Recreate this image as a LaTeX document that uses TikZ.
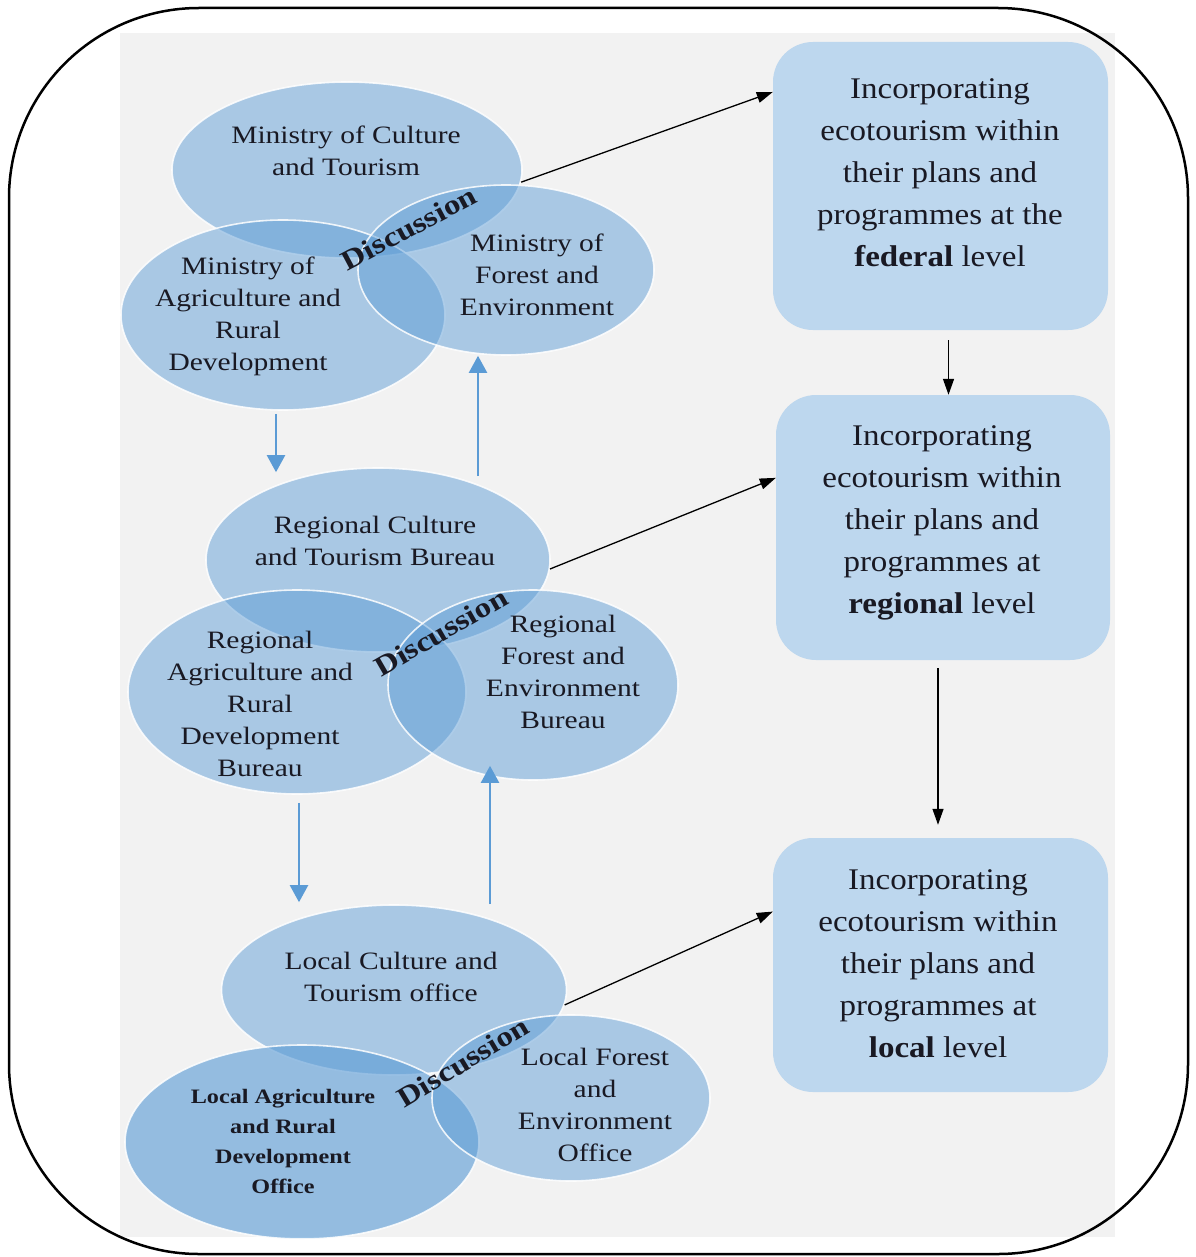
\documentclass[tikz,border=0pt]{standalone}
\usepackage{fontspec}
\setmainfont[FakeStretch=1.18]{Liberation Serif}
\newfontfamily\boxfont[FakeStretch=1.1]{Liberation Serif}
\usetikzlibrary{shapes.geometric,arrows.meta,calc}
\definecolor{ellblue}{RGB}{91,155,213}
\definecolor{boxblue}{RGB}{189,215,238}
\definecolor{bggray}{RGB}{242,242,242}
\definecolor{txt}{RGB}{25,25,35}
\begin{document}
\begin{tikzpicture}[x=1pt,y=-1pt,
 ell/.style={ellipse, draw=white, draw opacity=0.85, line width=1.6pt, fill=ellblue, fill opacity=0.48, inner sep=0pt},
 elltext/.style={align=center, text=txt, font=\fontsize{25}{32}\selectfont},
 disc/.style={text=txt, inner sep=0pt, font=\bfseries\fontsize{28}{30}\selectfont},
 lvlbox/.style={rectangle, rounded corners=40pt, fill=boxblue, draw=none, inner sep=0pt},
 boxtext/.style={align=center, text=txt, font=\boxfont\fontsize{30}{42}\selectfont},
 blk/.style={-{Triangle[length=16pt,width=11pt]}, line width=1.3pt, black},
 barr/.style={-{Triangle[length=17pt,width=18pt]}, line width=2.2pt, ellblue},
]
\useasboundingbox (0,0) rectangle (1195,1257);
\fill[white] (0,0) rectangle (1195,1257);
\fill[bggray] (120,33) rectangle (1115,1237);
\draw[line width=2.5pt, rounded corners=190pt] (9,8) rectangle (1188,1254);

% federal ellipses
\node[ell, minimum width=350pt, minimum height=176pt] (fedC) at (347,170) {};
\node[ell, minimum width=324pt, minimum height=190pt] (fedA) at (283,315) {};
\node[ell, minimum width=296pt, minimum height=170pt] (fedF) at (506,270) {};
% regional ellipses
\node[ell, minimum width=344pt, minimum height=184pt] (regC) at (378,560) {};
\node[ell, minimum width=338pt, minimum height=204pt] (regA) at (297,692) {};
\node[ell, minimum width=290pt, minimum height=190pt] (regF) at (533,685) {};
% local ellipses
\node[ell, minimum width=345pt, minimum height=170pt] (locC) at (394,990) {};
\node[ell, fill opacity=0.62, minimum width=354pt, minimum height=194pt] (locA) at (302,1142) {};
\node[ell, minimum width=278pt, minimum height=166pt] (locF) at (571,1098) {};

% ellipse texts
\node[elltext] (tFedC) at (346,151) {Ministry of Culture\\and Tourism};
\node[elltext] (tFedA) at (248,316) {Ministry of\\Agriculture and\\Rural\\Development};
\node[elltext] (tFedF) at (537,275) {Ministry of\\Forest and\\Environment};
\node[disc, rotate=28] (dFed) at (409,228) {Discussion};

\node[elltext] (tRegC) at (375,541) {Regional Culture\\and Tourism Bureau};
\node[elltext] (tRegA) at (260,704) {Regional\\Agriculture and\\Rural\\Development\\Bureau};
\node[elltext] (tRegF) at (563,672) {Regional\\Forest and\\Environment\\Bureau};
\node[disc, rotate=30] (dReg) at (441,632) {Discussion};

\node[elltext] (tLocC) at (391,977) {Local Culture and\\Tourism office};
\node[elltext, font=\bfseries\fontsize{20.5}{30}\selectfont] (tLocA) at (283,1141) {Local Agriculture\\and Rural\\Development\\Office};
\node[elltext] (tLocF) at (595,1105) {Local Forest\\and\\Environment\\Office};
\node[disc, rotate=31] (dLoc) at (463,1062) {Discussion};

% level boxes
\node[lvlbox, minimum width=335pt, minimum height=288pt] (fedBox) at (940.5,186) {};
\node[lvlbox, minimum width=334pt, minimum height=265pt] (regBox) at (943,527.5) {};
\node[lvlbox, minimum width=335pt, minimum height=254pt] (locBox) at (940.5,965) {};
\node[boxtext] (tFedBox) at (940,173) {Incorporating\\ecotourism within\\their plans and\\programmes at the\\\textbf{federal} level};
\node[boxtext] (tRegBox) at (942,523) {Incorporating\\ecotourism within\\their plans and\\programmes at\\\textbf{regional} level};
\node[boxtext] (tLocBox) at (938,964) {Incorporating\\ecotourism within\\their plans and\\programmes at\\\textbf{local} level};

% black arrows
\draw[blk] (fedC.-4) -- ($(fedBox.north west)!0.174!(fedBox.south west)$);
\draw[blk] (regC.-3) -- ($(regBox.north west)!0.313!(regBox.south west)$);
\draw[blk] (locC.-5) -- ($(locBox.north west)!0.29!(locBox.south west)$);
\draw[blk, shorten <=10pt] ([xshift=8pt]fedBox.south) -- ([xshift=8pt]fedBox.south |- regBox.north);
\draw[blk, shorten <=8pt, shorten >=13pt] ([xshift=-5pt]regBox.south) -- ([xshift=-5pt]regBox.south |- locBox.north);

% blue arrows
\draw[barr, shorten <=3pt, shorten >=-5pt] ([xshift=-7pt]fedA.south) -- ([xshift=-7pt]fedA.south |- regC.north);
\draw[barr, shorten <=-9pt] ([xshift=-28pt]fedF.south |- regC.north) -- ([xshift=-28pt]fedF.south);
\draw[barr, shorten <=8pt, shorten >=2pt] ([xshift=2pt]regA.south) -- ([xshift=2pt]regA.south |- locC.north);
\draw[barr, shorten >=-15pt] ([xshift=-43pt]regF.south |- locC.north) -- ([xshift=-43pt]regF.south);
\end{tikzpicture}
\end{document}
